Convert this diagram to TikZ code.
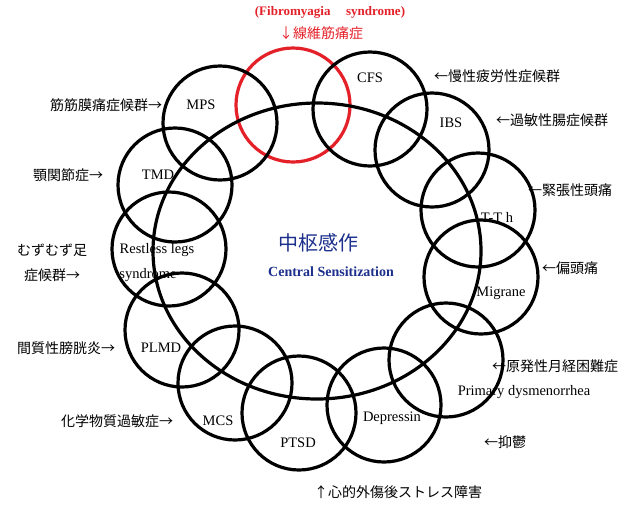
\documentclass[tikz,border=0pt]{standalone}
\usepackage{fontspec}
\setmainfont{Liberation Serif}
\newfontfamily\jpfont{Noto Sans CJK JP}
\usetikzlibrary{shapes.geometric}
\definecolor{fmred}{RGB}{228,32,40}
\definecolor{csblue}{RGB}{28,48,140}
\tikzset{
  ring/.style={circle, draw, line width=3.2pt, minimum size=114pt, inner sep=0pt},
  jlab/.style={font=\jpfont\fontsize{14}{14}\selectfont, inner sep=0pt},
  elab/.style={font=\fontsize{14.5}{14.5}\selectfont, inner sep=0pt}
}

\begin{document}
\begin{tikzpicture}[x=1pt,y=-1pt]
            \useasboundingbox (0,0) rectangle (631,509);
            % fibromyalgia ring and the big ring
            \node[ring, draw=fmred] (fm) at (293,105) {};
            \node[ellipse, draw, line width=3.2pt, minimum width=328pt, minimum height=296pt, inner sep=0pt] (cs) at (317,251) {};
            \foreach \n/\cx/\cy in {mps/220/123, cfs/370/109, ibs/432/150, tth/478/210, mig/481/277, pd/446/360,
                                    dep/384/405, ptsd/299/413, mcs/235/383, plmd/182/330, rls/169/249, tmd/175/185}{
                \node[ring] (\n) at (\cx,\cy) {};
            }
            % red title
            \node[inner sep=0pt, text=fmred, font=\bfseries\fontsize{13}{13}\selectfont] (fmt) at (330,12) {(Fibromyagia\hspace{1.2em}syndrome)};
            \node[jlab, text=fmred] (fmj) at (321,33) {↓線維筋痛症};
            % centre
            \node[inner sep=0pt, text=csblue, font=\jpfont\fontsize{20}{20}\selectfont] (csj) at (318,243) {中枢感作};
            \node[inner sep=0pt, text=csblue, font=\bfseries\fontsize{14}{14}\selectfont] (cst) at (331,272) {Central Sensitization};
            % english labels
            \node[elab] (mpst) at (201,105) {MPS};
            \node[elab] (cfst) at (370,78) {CFS};
            \node[elab] (ibst) at (451,123) {IBS};
            \node[elab] (ttht) at (497,217) {T-T h};
            \node[elab] (migt) at (501,293) {Migrane};
            \node[elab] (pdt) at (524,392) {Primary dysmenorrhea};
            \node[elab] (dept) at (392,418) {Depressin};
            \node[elab] (ptsdt) at (298,443) {PTSD};
            \node[elab] (mcst) at (218,421) {MCS};
            \node[elab] (plmdt) at (161,348) {PLMD};
            \node[elab] (rlst) at (157,250) {Restless legs};
            \node[elab] (rlst2) at (148,275) {syndrome};
            \node[elab] (tmdt) at (158,175) {TMD};
            % japanese labels
            \node[jlab] (mpsj) at (106,105) {筋筋膜痛症候群→};
            \node[jlab] (tmdj) at (68,175) {顎関節症→};
            \node[jlab] (rlsj) at (52,250) {むずむず足};
            \node[jlab] (rlsj2) at (52,275) {症候群→};
            \node[jlab] (plmdj) at (66,348) {間質性膀胱炎→};
            \node[jlab] (mcsj) at (117,421) {化学物質過敏症→};
            \node[jlab] (ptsdj) at (398,492) {↑心的外傷後ストレス障害};
            \node[jlab] (depj) at (505,442) {←抑鬱};
            \node[jlab] (pdj) at (555,366) {←原発性月経困難症};
            \node[jlab] (migj) at (570,268) {←偏頭痛};
            \node[jlab] (tthj) at (570,190) {←緊張性頭痛};
            \node[jlab] (ibsj) at (552,120) {←過敏性腸症候群};
            \node[jlab] (cfsj) at (497,76) {←慢性疲労性症候群};
        \end{tikzpicture}
\end{document}
